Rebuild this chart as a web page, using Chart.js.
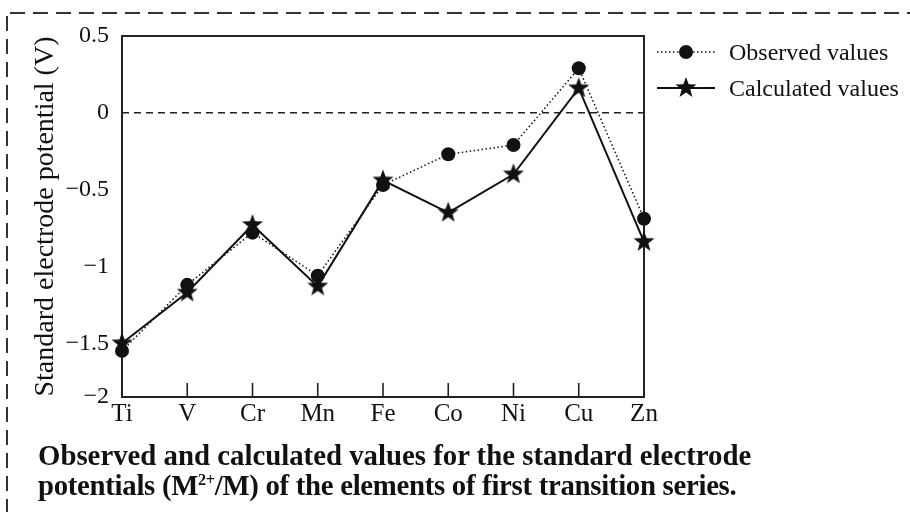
<!DOCTYPE html>
<html><head><meta charset="utf-8">
<script src="https://cdn.jsdelivr.net/npm/chart.js@4.4.1/dist/chart.umd.min.js"></script>
<style>
html,body{margin:0;padding:0;background:#fff;}
#wrap{position:relative;width:910px;height:512px;overflow:hidden;background:#fff;}
#c{position:absolute;left:0;top:0;}
.legend-row{position:absolute;left:655px;height:26px;display:flex;align-items:center;font-family:"Liberation Serif","Times New Roman",serif;font-size:24px;color:#111;white-space:nowrap;}
.legend-row canvas{margin-right:12px;}
#caption{position:absolute;left:38px;top:440px;font-family:"Liberation Serif","Times New Roman",serif;font-weight:bold;font-size:28.8px;line-height:30px;color:#111;white-space:nowrap;}
#caption sup{font-size:56%;line-height:0;vertical-align:0.6em;}
#caption .l2{letter-spacing:-0.3px;}
</style></head>
<body><div id="wrap"><canvas id="c" width="910" height="512"></canvas>
<div class="legend-row" id="lg0" style="top:39px"></div>
<div class="legend-row" id="lg1" style="top:75px"></div>
<div id="caption">Observed and calculated values for the standard electrode<br><span class="l2">potentials (M<sup>2+</sup>/M) of the elements of first transition series.</span></div>
</div>
<script>
// ---- data ----
const elements = ['Ti','V','Cr','Mn','Fe','Co','Ni','Cu','Zn'];
const observedValues = [-1.55,-1.12,-0.78,-1.06,-0.47,-0.27,-0.21,0.29,-0.69];
const calculatedValues = [-1.50,-1.17,-0.73,-1.13,-0.44,-0.65,-0.40,0.16,-0.84];
const yTickValues = [0.5,0,-0.5,-1,-1.5,-1.85];
const yTickLabels = ['0.5','0','\u22120.5','\u22121','\u22121.5','\u22122'];
const seriesNames = ['Observed values','Calculated values'];
const yAxisTitle = 'Standard electrode potential (V)';
const yMin = -1.85, yMax = 0.5;

const FONT = '"Liberation Serif","Times New Roman",serif';
const INK = '#111';

function starPath(g, cx, cy, r){
  g.beginPath();
  for(let i=0;i<10;i++){
    const rr = i%2 ? r*0.41 : r;
    const a = -Math.PI/2 + i*Math.PI/5;
    g.lineTo(cx+rr*Math.cos(a), cy+rr*Math.sin(a));
  }
  g.closePath();
}
function makeStar(r){
  const s = Math.ceil(r*2+2);
  const c = document.createElement('canvas');
  c.width = c.height = s;
  const g = c.getContext('2d');
  starPath(g, s/2, s/2, r);
  g.fillStyle = INK; g.fill();
  return c;
}
const starImg = makeStar(11);

function legendIcon(kind){
  const c = document.createElement('canvas');
  c.width = 62; c.height = 26;
  const g = c.getContext('2d');
  g.strokeStyle = INK; g.fillStyle = INK;
  g.beginPath(); g.moveTo(2,13); g.lineTo(60,13);
  if(kind===0){ g.setLineDash([1.5,2.5]); g.lineWidth=1.5; } else { g.lineWidth=2; }
  g.stroke(); g.setLineDash([]);
  if(kind===0){ g.beginPath(); g.arc(31,13,7,0,Math.PI*2); g.fill(); }
  else { starPath(g,31,13,11); g.fill(); }
  return c;
}
[0,1].forEach(k=>{
  const row = document.getElementById('lg'+k);
  row.appendChild(legendIcon(k));
  const sp = document.createElement('span'); sp.textContent = seriesNames[k];
  row.appendChild(sp);
});

const pagePlugin = {
  id:'page',
  beforeDraw(chart){
    const ctx = chart.ctx;
    ctx.save();
    ctx.fillStyle = '#fff'; ctx.fillRect(0,0,chart.width,chart.height);
    ctx.strokeStyle = '#333'; ctx.lineWidth = 2; ctx.setLineDash([15,8]);
    ctx.beginPath(); ctx.moveTo(10,13); ctx.lineTo(chart.width,13); ctx.stroke();
    ctx.beginPath(); ctx.moveTo(7,16); ctx.lineTo(7,chart.height); ctx.stroke();
    ctx.restore();
  },
  beforeDatasetsDraw(chart){
    const {ctx, chartArea:a, scales:{x}} = chart;
    ctx.save();
    ctx.strokeStyle = '#222'; ctx.lineWidth = 2;
    ctx.strokeRect(a.left, a.top, a.right-a.left, a.bottom-a.top);
    ctx.lineWidth = 1.6;
    ctx.beginPath();
    for(let i=1;i<elements.length-1;i++){
      const px = x.getPixelForTick(i);
      ctx.moveTo(px, a.bottom); ctx.lineTo(px, a.bottom-14);
    }
    ctx.stroke();
    ctx.restore();
  }
};

new Chart(document.getElementById('c'), {
  type:'line',
  data:{
    labels: elements,
    datasets:[
      { label: seriesNames[0], data: observedValues, borderColor: INK, borderWidth: 1.5,
        borderDash:[1.5,2.5], pointStyle:'circle', pointRadius:7, pointBackgroundColor: INK,
        pointBorderWidth:0, fill:false, tension:0, clip:false },
      { label: seriesNames[1], data: calculatedValues, borderColor: INK, borderWidth: 2,
        pointStyle: starImg, pointRadius:10, fill:false, tension:0, clip:false }
    ]
  },
  options:{
    responsive:false, animation:false, devicePixelRatio:1,
    layout:{ padding:{ top:36, right:266, bottom:85, left:0 } },
    plugins:{ legend:{display:false}, tooltip:{enabled:false}, title:{display:false} },
    scales:{
      x:{ type:'category', offset:false,
        grid:{ display:false, drawTicks:false }, border:{ display:false },
        ticks:{ font:{family:FONT, size:25}, color:INK, padding:2, autoSkip:false, maxRotation:0 },
        afterFit(s){ s.height = 30; } },
      y:{ min:yMin, max:yMax,
        afterBuildTicks(s){ s.ticks = yTickValues.map(v=>({value:v})); },
        afterFit(s){ s.width = 122; },
        ticks:{ callback:(v,i)=>yTickLabels[i], font:{family:FONT, size:24}, color:INK, padding:13, autoSkip:false },
        grid:{ drawTicks:false, lineWidth:1.6, color:(c)=> (c.tick && c.tick.value===0) ? '#222' : 'rgba(0,0,0,0)' },
        border:{ display:false, dash:[7,5] },
        title:{ display:true, text:yAxisTitle, font:{family:FONT, size:28}, color:INK, padding:{top:29,bottom:0} } }
    }
  },
  plugins:[pagePlugin]
});
</script>
</body></html>
